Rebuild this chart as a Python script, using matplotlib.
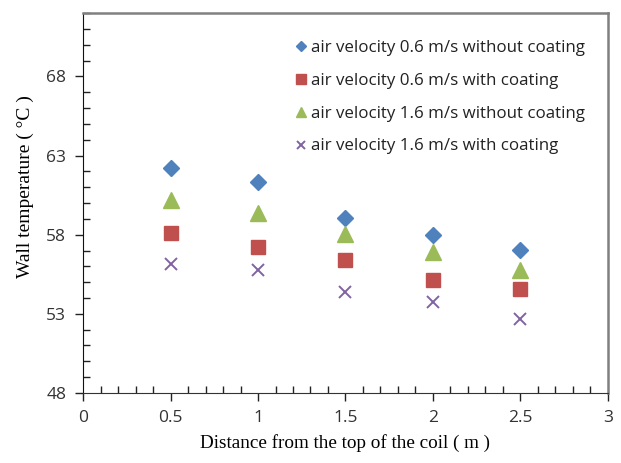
import matplotlib
matplotlib.use("Agg")
import matplotlib.pyplot as plt
from matplotlib.ticker import MultipleLocator

# 데이터
distance = [0.5, 1.0, 1.5, 2.0, 2.5]
v06_no_coat = [62.2, 61.3, 59.05, 57.95, 57.05]
v06_coat = [58.1, 57.25, 56.4, 55.15, 54.55]
v16_no_coat = [60.2, 59.4, 58.05, 56.9, 55.75]
v16_coat = [56.15, 55.75, 54.35, 53.75, 52.65]

labels = [
    "air velocity 0.6 m/s without coating",
    "air velocity 0.6 m/s with coating",
    "air velocity 1.6 m/s without coating",
    "air velocity 1.6 m/s with coating",
]

fig = plt.figure(figsize=(6.21, 4.63), dpi=100)
ax = fig.add_axes([0.1337, 0.1512, 0.8453, 0.8207])

ax.plot(distance, v06_no_coat, linestyle="none", marker="D", ms=8.5,
        color="#4F81BD", label=labels[0])
ax.plot(distance, v06_coat, linestyle="none", marker="s", ms=10.5,
        color="#C0504D", label=labels[1])
ax.plot(distance, v16_no_coat, linestyle="none", marker="^", ms=11,
        color="#9BBB59", label=labels[2])
ax.plot(distance, v16_coat, linestyle="none", marker="x", ms=9, mew=1.4,
        color="#8064A2", label=labels[3])

ax.set_xlim(0, 3)
ax.set_ylim(48, 72)
ax.xaxis.set_major_locator(MultipleLocator(0.5))
ax.xaxis.set_minor_locator(MultipleLocator(0.1))
ax.yaxis.set_major_locator(MultipleLocator(5))
ax.yaxis.set_minor_locator(MultipleLocator(1))
ax.set_xticks([0, 0.5, 1, 1.5, 2, 2.5, 3])
ax.set_xticklabels(["0", "0.5", "1", "1.5", "2", "2.5", "3"])
ax.set_yticks([48, 53, 58, 63, 68])

ax.tick_params(which="major", direction="out", length=6, width=1,
               labelsize=12.5, colors="#222222", pad=6)
ax.tick_params(which="minor", direction="in", length=5, width=1, colors="#222222")
for lab in ax.get_xticklabels() + ax.get_yticklabels():
    lab.set_fontfamily("Open Sans")
    lab.set_color("#333333")

ax.spines["left"].set_color("#111111")
ax.spines["bottom"].set_color("#333333")
ax.spines["top"].set_color("#808080")
ax.spines["right"].set_color("#808080")
ax.spines["top"].set_linewidth(1.8)
ax.spines["right"].set_linewidth(1.8)

ax.set_xlabel("Distance from the top of the coil ( m )", fontfamily="Liberation Serif",
              fontsize=13.8, labelpad=6)
ax.set_ylabel("Wall temperature ( °C )", fontfamily="Liberation Serif",
              fontsize=14)
ax.yaxis.set_label_coords(-0.093, 0.542)

leg = ax.legend(loc="upper right", frameon=False, markerscale=0.65,
                handlelength=0.7, handletextpad=0.25, labelspacing=1.0,
                bbox_to_anchor=(0.985, 0.97),
                prop={"family": "Open Sans", "size": 12.2})
for t in leg.get_texts():
    t.set_color("#222222")

fig.savefig("out.png", dpi=100)
